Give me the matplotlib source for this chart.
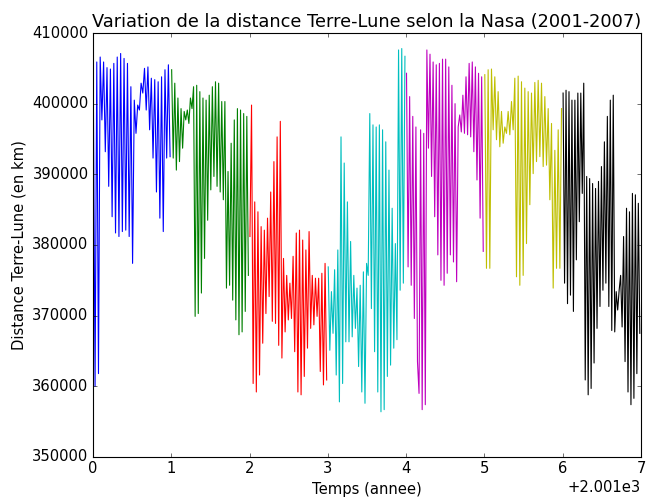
"""
Earth-Moon distance 2001-2007 (NASA), one colour per year.
"""

import matplotlib
matplotlib.use("Agg")
import matplotlib.pyplot as plt
from matplotlib.ticker import ScalarFormatter
import numpy as np

plt.style.use("classic")
plt.rcParams["font.size"] = 13.3
plt.rcParams["axes.titlesize"] = 16

# ── Data (km), one list per year ──────────────────────────────────────────────
YEARS = [2001, 2002, 2003, 2004, 2005, 2006, 2007]
COLORS = ["b", "g", "r", "c", "m", "y", "k"]

d2001 = [401000, 360000, 405900, 361800, 406600, 397700, 405900, 393200, 405100, 388300,
         404900, 384000, 405700, 381700, 406600, 381200, 407100, 381900, 406400, 382100,
         405700, 381200, 402400, 377400, 400500, 395800, 399800, 399100, 402900, 401500,
         405000, 399100, 405200, 396300, 403600, 392300, 403400, 387500, 403100, 383800,
         403800, 381900, 404800, 392300, 405500, 392500]
d2002 = [404800, 392300, 402900, 390600, 400800, 391800, 399300, 393700, 398900, 397700,
         399100, 397200, 400800, 399300, 402400, 369900, 402600, 370300, 401700, 373200,
         400800, 378100, 400500, 383500, 401200, 387800, 402400, 389700, 403100, 388300,
         402900, 387500, 400300, 386400, 400300, 373900, 390400, 374300, 394400, 372200,
         397700, 369400, 399300, 367300, 399100, 367700, 398600, 370600, 398200, 375700]
d2003 = [381200, 399800, 360400, 386100, 359200, 384700, 361600, 382600, 366100, 382100,
         370300, 383800, 372700, 387500, 369200, 391800, 368900, 395300, 365800, 397500,
         364000, 378100, 367700, 375700, 369400, 374600, 369600, 378400, 364900, 381700,
         359200, 382100, 358800, 380700, 361400, 379300, 365400, 381900, 368200, 375700,
         368700, 375300, 369900, 375300, 362100, 376000, 360200, 377400, 360900]
d2004 = [376900, 365100, 373400, 367500, 376500, 361600, 379300, 357800, 395300, 360400,
         391600, 366300, 386100, 366300, 380500, 367000, 375700, 368200, 373900, 362800,
         374300, 359200, 376200, 357600, 377400, 375700, 398600, 371000, 397000, 364900,
         396700, 359200, 397000, 356400, 396300, 356700, 394600, 361400, 390600, 363000,
         385200, 365400, 380200, 366600, 407600, 373600, 407800, 374600, 406700]
d2005 = [404300, 376900, 401000, 374300, 398200, 369600, 396700, 363500, 359000, 396300,
         356700, 395800, 357400, 407600, 393700, 407000, 389700, 405900, 384000, 405500,
         378600, 405700, 375000, 406300, 374300, 406300, 376000, 405200, 378600, 402600,
         377600, 400000, 374800, 396700, 398400, 396000, 401200, 395800, 403800, 395600,
         405700, 395300, 405900, 393200, 405200, 389200, 404300, 383800, 403800, 379100]
d2006 = [404100, 376700, 404800, 376700, 404900, 396300, 403800, 394900, 401700, 393900,
         398900, 394400, 396700, 395800, 398900, 395600, 400300, 396300, 403600, 375500,
         403900, 374300, 403100, 375700, 402200, 380200, 401700, 385700, 401500, 390100,
         403000, 391800, 403300, 392500, 402900, 391100, 401000, 391300, 399300, 386400,
         397200, 373900, 393400, 376700, 396300, 376700, 399300]
d2007 = [401500, 374600, 401900, 371700, 401700, 372900, 400500, 370600, 400500, 377900,
         401500, 383300, 401500, 387300, 402900, 360900, 389700, 358800, 389400, 359700,
         388700, 363300, 388000, 368200, 389000, 371300, 391100, 373600, 394600, 374600,
         398200, 371300, 400500, 367900, 401200, 367700, 373400, 370800, 373600, 375700,
         368400, 381200, 363500, 385200, 359200, 384700, 357400, 387300, 358300, 387100,
         361800, 385900, 367500]

SERIES = [d2001, d2002, d2003, d2004, d2005, d2006, d2007]

# ── Figure ────────────────────────────────────────────────────────────────────
fig = plt.figure(figsize=(647 / 80, 497 / 80), dpi=80, facecolor="white")
ax = fig.add_subplot(111)
fig.subplots_adjust(left=0.1437, right=0.9907, top=0.9336, bottom=0.0805)

for year, values, color in zip(YEARS, SERIES, COLORS):
    t = np.linspace(year + 0.005, year + 0.985, len(values))
    ax.plot(t, values, color=color, linewidth=1.0)

ax.set_xlim(2001, 2008)
ax.set_ylim(350000, 410000)
ax.set_yticks(np.arange(350000, 410001, 10000))

ax.xaxis.set_major_formatter(ScalarFormatter(useOffset=2001))
yfmt = ScalarFormatter(useOffset=False)
yfmt.set_scientific(False)
ax.yaxis.set_major_formatter(yfmt)

ax.set_title("Variation de la distance Terre-Lune selon la Nasa (2001-2007)")
ax.set_xlabel("Temps (annee)")
ax.set_ylabel("Distance Terre-Lune (en km)")

fig.savefig("out.png", dpi=80, facecolor="white")
